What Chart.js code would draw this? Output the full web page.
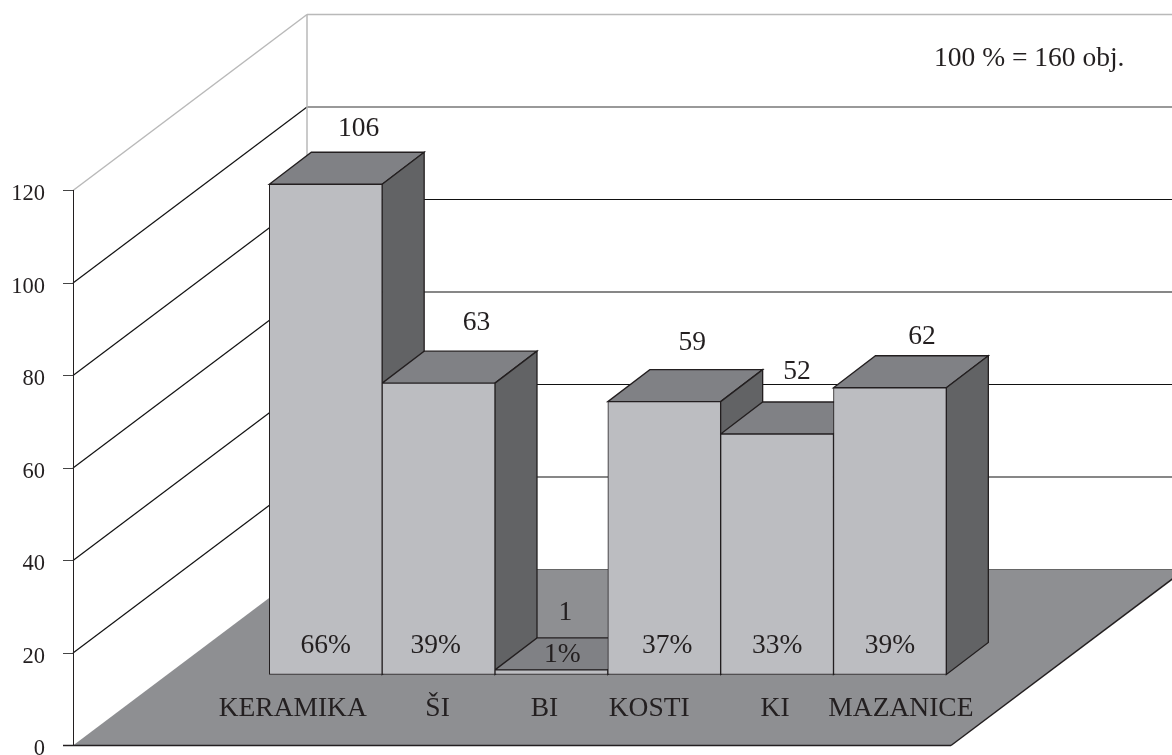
<!DOCTYPE html>
<html>
<head>
<meta charset="utf-8">
<title>Obj.</title>
<script src="https://cdn.jsdelivr.net/npm/chart.js@4"></script>
<style>
  html, body { margin: 0; background: #fff; overflow: hidden; }
  canvas { display: block; }
</style>
</head>
<body>
<canvas id="chart" width="1172" height="755"></canvas>
<script>
const categories = ["KERAMIKA", "ŠI", "BI", "KOSTI", "KI", "MAZANICE"];
const counts = [106, 63, 1, 59, 52, 62];
const percents = ["66%", "39%", "1%", "37%", "33%", "39%"];
const yTicks = [0, 20, 40, 60, 80, 100, 120];
const note = "100 % = 160 obj.";

// hand placed labels in the original, offsets from the bar centre / bar top
const countNudge = [[33, -55], [38, -60], [14, -57], [28, -59], [20, -62], [32, -51]];
const percentNudge = [0, -3, 11, 3, 0, 0];
const catNudge = [-33, -1, -7, -15, -2, 11];

const INK = "#231f20";
const FONT = '27.5px "Liberation Serif"';
// wall depth and bar depth in pixels
const wallDx = 234, wallDy = 176;
const barDx = 42, barDy = 32;

function poly(ctx, pts, fill, stroke) {
  ctx.beginPath();
  pts.forEach((p, i) => i ? ctx.lineTo(p[0], p[1]) : ctx.moveTo(p[0], p[1]));
  ctx.closePath();
  if (fill) { ctx.fillStyle = fill; ctx.fill(); }
  if (stroke) { ctx.strokeStyle = stroke; ctx.lineWidth = 1.3; ctx.stroke(); }
}

function line(ctx, x1, y1, x2, y2, color, w) {
  ctx.beginPath();
  ctx.moveTo(x1, y1);
  ctx.lineTo(x2, y2);
  ctx.strokeStyle = color;
  ctx.lineWidth = w || 1;
  ctx.stroke();
}

const box3d = {
  id: "box3d",
  // floor and walls
  beforeDraw(chart) {
    const { ctx, chartArea, scales: { y } } = chart;
    const left = chartArea.left, right = chartArea.right;
    const front0 = y.getPixelForValue(0);
    const floorRight = 951;
    ctx.save();
    poly(ctx, [[left, front0], [left + wallDx, front0 - wallDy],
      [floorRight + wallDx, front0 - wallDy], [floorRight, front0]], "#8e8f92");
    line(ctx, floorRight, front0, floorRight + wallDx, front0 - wallDy, INK, 1.5);
    yTicks.forEach(v => {
      const py = y.getPixelForValue(v);
      const color = v === 120 ? "#b9b9b9" : v === 100 ? "#777" : v === 0 ? "#666" : "#111";
      line(ctx, left + wallDx, py - wallDy, right, py - wallDy, color, v === 120 || v === 100 ? 1.5 : 1.2);
      if (v > 0) line(ctx, left, py, left + wallDx, py - wallDy, v === 120 ? "#b9b9b9" : "#111", v === 120 ? 1.5 : 1.2);
    });
    line(ctx, left + wallDx, y.getPixelForValue(120) - wallDy, left + wallDx, front0 - wallDy, "#b9b9b9", 1.5);
    ctx.restore();
  },
  // top and side faces, left to right so the next bar paints over
  beforeDatasetsDraw(chart) {
    const { ctx } = chart;
    const bars = chart.getDatasetMeta(0).data;
    ctx.save();
    bars.forEach(b => {
      const l = b.x - b.width / 2, r = b.x + b.width / 2;
      poly(ctx, [[l, b.y], [l + barDx, b.y - barDy], [r + barDx, b.y - barDy], [r, b.y]], "#808185", INK);
      poly(ctx, [[r, b.y], [r + barDx, b.y - barDy], [r + barDx, b.base - barDy], [r, b.base]], "#626365", INK);
    });
    ctx.restore();
  },
  // baseline and all the text on the bars
  afterDatasetsDraw(chart) {
    const { ctx, scales: { y } } = chart;
    const bars = chart.getDatasetMeta(0).data;
    const front0 = y.getPixelForValue(0);
    ctx.save();
    line(ctx, 63, front0, 951, front0, INK, 1.5);
    ctx.font = FONT;
    ctx.fillStyle = INK;
    ctx.textAlign = "center";
    ctx.textBaseline = "middle";
    bars.forEach((b, i) => {
      ctx.fillText(String(counts[i]), b.x + countNudge[i][0], b.y + countNudge[i][1]);
      const py = i === 2 ? 655 : 646;
      ctx.fillText(percents[i], b.x + percentNudge[i], py);
      ctx.fillText(categories[i], b.x + catNudge[i], 709);
    });
    ctx.textAlign = "left";
    ctx.fillText(note, 934, 59);
    ctx.restore();
  }
};

new Chart(document.getElementById("chart"), {
  type: "bar",
  data: {
    datasets: [{
      data: categories.map((c, i) => ({ x: i, y: counts[i] })),
      yAxisID: "yBar",
      backgroundColor: "#bcbdc1",
      borderColor: INK,
      borderWidth: 1,
      borderSkipped: false,
      barPercentage: 1,
      categoryPercentage: 1,
      clip: false
    }]
  },
  options: {
    responsive: false,
    animation: false,
    layout: { padding: { top: 190.5, bottom: 9.5, left: 0, right: 0 } },
    plugins: { legend: { display: false }, tooltip: { enabled: false } },
    scales: {
      // linear so the six bars can sit inside the wider floor
      x: {
        type: "linear",
        display: false,
        offset: false,
        min: -2.24,
        max: 7.5
      },
      y: {
        position: "left",
        min: 0,
        max: 120,
        afterBuildTicks(s) { s.ticks = yTicks.map(v => ({ value: v })); },
        afterFit(s) { s.width = 73; s.paddingTop = 0; s.paddingBottom = 0; },
        grid: { drawOnChartArea: false, tickLength: 10, tickColor: "#444", tickWidth: 1 },
        border: { color: INK, width: 1 },
        ticks: {
          padding: 18,
          labelOffset: 4,
          color: INK,
          font: { family: "Liberation Serif", size: 22.5 }
        }
      },
      // same pixel range, shifted so the bars stand further back on the floor
      yBar: {
        display: false,
        min: -15.35,
        max: 104.65
      }
    }
  },
  plugins: [box3d]
});
</script>
</body>
</html>
